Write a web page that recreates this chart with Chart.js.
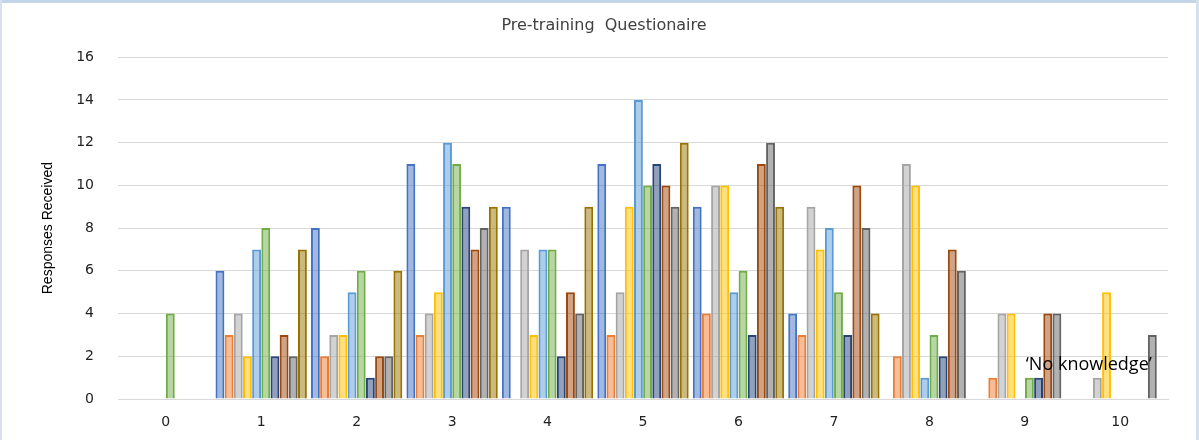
<!DOCTYPE html>
<html>
<head>
<meta charset="utf-8">
<script src="https://cdn.jsdelivr.net/npm/chart.js@4.4.0/dist/chart.umd.min.js"></script>
<style>
  html, body { margin: 0; padding: 0; background: #fff; }
  #wrap { width: 1199px; height: 440px; position: relative; }
</style>
</head>
<body>
<div id="wrap"><canvas id="barChart" width="1199" height="440"></canvas></div>
<script>
var xValues = ["0", "1", "2", "3", "4", "5", "6", "7", "8", "9", "10"];
var yTicks = [0, 2, 4, 6, 8, 10, 12, 14, 16];
// one array per series (bars left to right inside each group)
var s1  = [0, 6, 8, 11, 9, 11, 9, 4, 0, 0, 0];
var s2  = [0, 3, 2, 3, 0, 3, 4, 3, 2, 1, 0];
var s3  = [0, 4, 3, 4, 7, 5, 10, 9, 11, 4, 1];
var s4  = [0, 2, 3, 5, 3, 9, 10, 7, 10, 4, 5];
var s5  = [0, 7, 5, 12, 7, 14, 5, 8, 1, 0, 0];
var s6  = [4, 8, 6, 11, 7, 10, 6, 5, 3, 1, 0];
var s7  = [0, 2, 1, 9, 2, 11, 3, 3, 2, 1, 0];
var s8  = [0, 3, 2, 7, 5, 10, 11, 10, 7, 4, 0];
var s9  = [0, 2, 2, 8, 4, 9, 12, 8, 6, 4, 3];
var s10 = [0, 7, 6, 9, 9, 12, 9, 4, 0, 0, 0];
var seriesData = [s1, s2, s3, s4, s5, s6, s7, s8, s9, s10];
var barColors = ["#4472C4", "#ED7D31", "#A5A5A5", "#FFC000", "#5B9BD5",
                 "#70AD47", "#264478", "#9E480E", "#636363", "#997300"];

function fade(hex, a) {
    var r = parseInt(hex.substr(1, 2), 16), g = parseInt(hex.substr(3, 2), 16), b = parseInt(hex.substr(5, 2), 16);
    return "rgba(" + r + "," + g + "," + b + "," + a + ")";
}

var datasets = seriesData.map(function (d, i) {
    return {
        label: "Series " + (i + 1),
        data: d,
        backgroundColor: fade(barColors[i], 0.5),
        borderColor: barColors[i],
        borderWidth: 2,
        categoryPercentage: 0.96,
        barPercentage: 0.97
    };
});

// frame round the chart + the 'No knowledge' note
var extras = {
    id: "extras",
    afterDraw: function (chart) {
        var ctx = chart.ctx;
        ctx.save();
        ctx.fillStyle = "#c3d6e8";
        ctx.fillRect(0, 0, 1199, 3);
        ctx.fillStyle = "#d5e2ee";
        ctx.fillRect(0, 0, 2, 440);
        ctx.fillRect(1196, 0, 3, 440);
        var x = chart.scales.x.getPixelForValue(9);
        var y = chart.scales.y.getPixelForValue(1.35);
        ctx.fillStyle = "#000";
        ctx.font = "18px 'Open Sans'";
        ctx.textBaseline = "alphabetic";
        ctx.fillText("\u2018No knowledge\u2019", x + 1, y);
        ctx.restore();
    }
};

new Chart("barChart", {
    type: "bar",
    data: {
        labels: xValues,
        datasets: datasets
    },
    options: {
        responsive: false,
        animation: false,
        layout: { padding: { left: 40, right: 31, top: 0, bottom: 4 } },
        plugins: {
            legend: { display: false },
            tooltip: { enabled: false },
            title: {
                display: true,
                text: "Pre-training  Questionaire",
                color: "#404040",
                font: { family: "'DejaVu Sans'", size: 16, weight: "normal" },
                padding: { top: 16, bottom: 22 }
            }
        },
        scales: {
            x: {
                grid: { display: false },
                border: { color: "#d9d9d9", width: 1 },
                ticks: { color: "#222", font: { family: "'DejaVu Sans'", size: 14 }, padding: 7 },
                afterFit: function (s) { s.height = 37; }
            },
            y: {
                min: 0,
                max: 16,
                afterBuildTicks: function (s) { s.ticks = yTicks.map(function (v) { return { value: v }; }); },
                grid: { color: "#d9d9d9", drawTicks: false },
                border: { display: false },
                ticks: { color: "#222", font: { family: "'DejaVu Sans'", size: 14 }, padding: 24 },
                title: {
                    display: true,
                    text: "Responses Received",
                    color: "#000",
                    font: { family: "'Liberation Sans Narrow', 'Liberation Sans'", size: 14 },
                    padding: { top: 0, bottom: 0 }
                },
                afterFit: function (s) { s.width = 78; }
            }
        }
    },
    plugins: [extras]
});
</script>
</body>
</html>
